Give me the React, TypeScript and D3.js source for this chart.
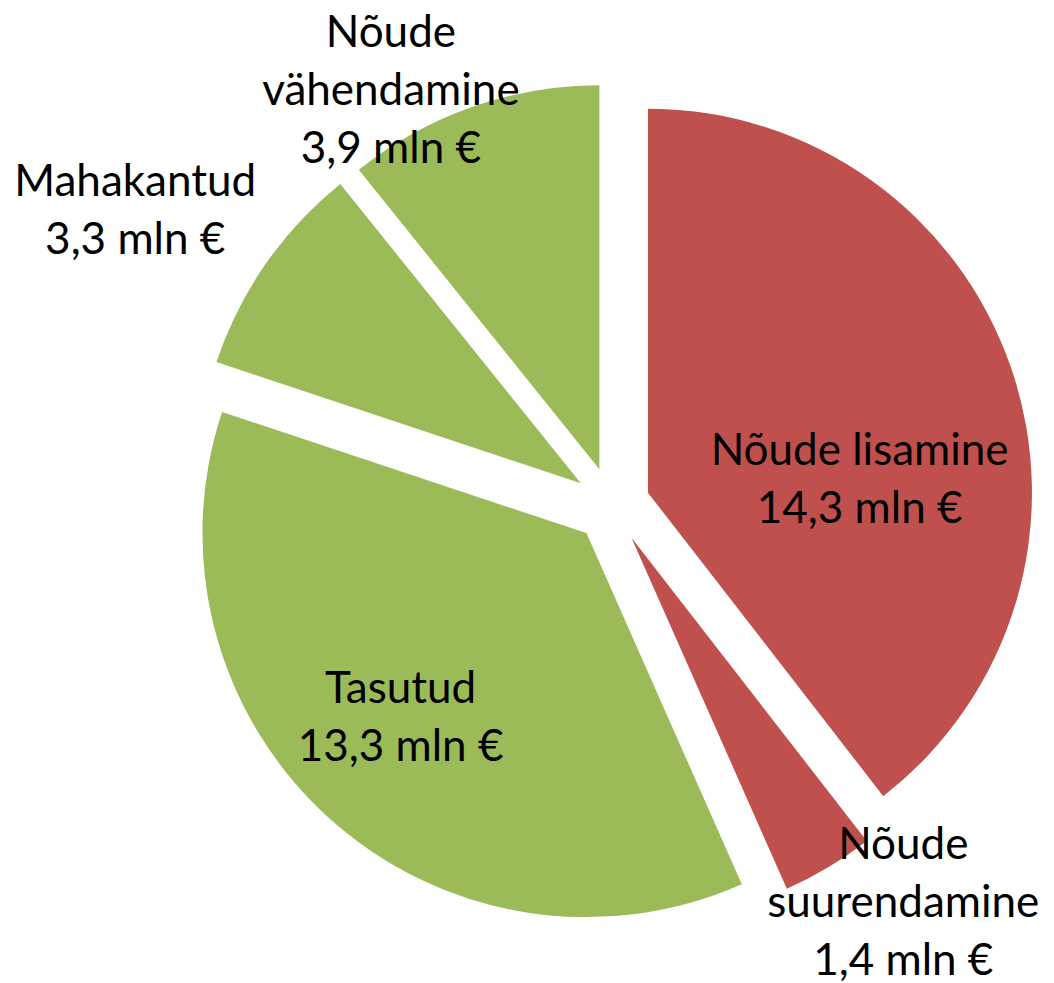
import React, { useEffect, useRef } from "react";
import * as d3 from "d3";

const categories = ["Nõude lisamine", "Nõude suurendamine", "Tasutud", "Mahakantud", "Nõude vähendamine"];
const values = [14.3, 1.4, 13.3, 3.3, 3.9];
const valueLabels = ["14,3 mln €", "1,4 mln €", "13,3 mln €", "3,3 mln €", "3,9 mln €"];
const labelLines = [["Nõude lisamine"], ["Nõude", "suurendamine"], ["Tasutud"], ["Mahakantud"], ["Nõude", "vähendamine"]];
const colors = ["#C0504D", "#C0504D", "#9BBB59", "#9BBB59", "#9BBB59"];

// label centre as (angle in degrees clockwise from top, distance from pie centre)
const labelPolar = [
  [84, 249],
  [143.7, 492],
  [225, 299],
  [301.8, 561],
  [332, 471],
];

const W = 1054, H = 983;
const cx = 612, cy = 505;
const radius = 384;
const explode = 38;
const lineH = 58;

export default function App() {
  const ref = useRef<SVGSVGElement>(null);

  useEffect(() => {
    const svg = d3.select(ref.current);
    svg.selectAll("*").remove();

    const pie = d3.pie<number>().sort(null).value(d => d)(values);
    const arc = d3.arc<d3.PieArcDatum<number>>().innerRadius(0).outerRadius(radius);

    const g = svg.append("g").attr("transform", `translate(${cx},${cy})`);

    g.selectAll("path")
      .data(pie)
      .enter()
      .append("path")
      .attr("d", arc)
      .attr("fill", (d, i) => colors[i])
      .attr("transform", d => {
        const mid = (d.startAngle + d.endAngle) / 2;
        return `translate(${explode * Math.sin(mid)},${-explode * Math.cos(mid)})`;
      });

    const labels = g.selectAll("text.lbl")
      .data(categories)
      .enter()
      .append("text")
      .attr("class", "lbl")
      .attr("text-anchor", "middle")
      .attr("font-family", "Lato, 'Open Sans', sans-serif")
      .attr("font-size", 44)
      .attr("fill", "#000");

    labels.each(function (name, i) {
      const [deg, dist] = labelPolar[i];
      const a = (deg * Math.PI) / 180;
      const x = dist * Math.sin(a);
      const y = -dist * Math.cos(a);
      const lines = [...labelLines[i], valueLabels[i]];
      const top = y - ((lines.length - 1) * lineH) / 2;
      d3.select(this)
        .selectAll("tspan")
        .data(lines)
        .enter()
        .append("tspan")
        .attr("x", x)
        .attr("y", (d, k) => top + k * lineH)
        .attr("dy", "0.35em")
        .text(d => d);
    });
  }, []);

  return (
    <svg
      ref={ref}
      width={W}
      height={H}
      style={{ position: "absolute", left: 0, top: 0, background: "#fff" }}
    />
  );
}
